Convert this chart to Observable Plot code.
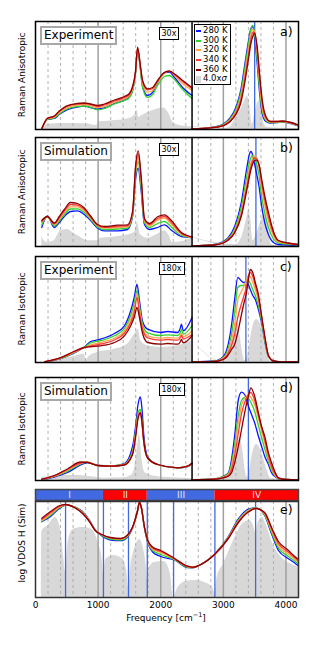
<!DOCTYPE html>
<html><head><meta charset="utf-8">
<script src="https://cdn.jsdelivr.net/npm/d3@7"></script>
<script src="https://cdn.jsdelivr.net/npm/@observablehq/plot@0.6"></script>
<style>
html,body{margin:0;padding:0;background:#fff}
body{width:320px;height:650px;position:relative;overflow:hidden;font-family:"DejaVu Sans",sans-serif;color:#000}
.abs{position:absolute}
.ylab{position:absolute;font-size:9px;white-space:nowrap;transform:translate(-50%,-50%) rotate(-90deg)}
.tag{position:absolute;background:#fff;border:2px solid #a8a8a8;font-size:12px;line-height:15px;padding:0 2px;white-space:nowrap}
.mag{position:absolute;background:#fff;border:1.5px solid #000;font-size:8px;line-height:11px;padding:0 2px;white-space:nowrap}
.let{position:absolute;font-size:12.5px;line-height:14px;white-space:nowrap}
.legend{position:absolute;left:194px;top:24px;width:35px;height:58px;border:1.5px solid #000;background:#fff;padding-top:1px;font-size:8.5px}
.legend .row{height:9.7px;line-height:9.7px;display:flex;align-items:center;white-space:nowrap}
.legend .sw{width:5px;height:2px;margin:0 2px 0 1px;flex:none}
.legend .sq{width:5px;height:7px;margin:0 2px 0 1px;background:#d8d8d8;flex:none}
.xlab{position:absolute;font-size:9px;white-space:nowrap;transform:translate(-50%,-50%)}
</style></head>
<body>
<script>
// ---------- data ----------
const temps = ["280 K", "300 K", "320 K", "340 K", "360 K"];
const tempColors = ["#0a14ff", "#2ed12e", "#ffa64d", "#ff3a3a", "#8b0000"];

const gridMinor = [200,400,600,800,1200,1400,1600,1800,2200,2400,2600,2800,3200,3400,3600,3800];
const gridMajor = [1000,2000,3000,4000];
const xTicks = [0,1000,2000,3000,4000];

// panel a (Experiment, anisotropic)
const aLeftFreq = [100,190,300,380,500,670,780,880,990,1100,1260,1420,1500,1550,1595,1630,1675,1710,1790,1870,1950,2060,2140,2220,2350,2500];
const aLeft = [
 [0.5,10,11,15,19.5,22.5,23.5,22,20.5,21.5,26,29.5,32.5,39,55,79,61,43,34,37,47,57,57.5,52,42,34],
 [0.5,10,11.5,15.5,20.5,23,23.5,22,19.7,21,25.5,29,32,38.5,54,80,60,42,32,35,44,53,54,50,40,31],
 [0.7,10.7,12.3,17,21.7,24.3,25,23.7,21.7,23,27.3,30.7,34,40.7,55.7,80.7,62.3,45.7,37.3,39,47.3,56.3,58.3,54,45.7,39],
 [0.8,11,13,18,23,25.5,26,25,23,24.5,28.5,32,35,42,56.5,81,63,48,39.7,41,48.5,57,58.3,55,48,40.7],
 [0.8,11.2,13.5,18.5,23.7,26,26.5,25.5,24,25.5,29.5,33,36,43,57,82.3,64,49,40.7,42,49,57,58.3,55.5,49,41.7]];
const aRightFreq = [2500,2700,2900,3000,3100,3200,3280,3340,3400,3440,3470,3500,3540,3580,3620,3680,3750,3850,3950,4050,4200];
const aRight = [
 [0.5,1.3,3,5.5,11,22,40,64,88,101,103,92,66,36,16,8,6.5,6.8,7.5,6.5,3.5],
 [0.5,1.3,2.8,5,10,20,37,60,85,100,104,96,70,40,19,9,7,7,7.7,6.7,3.7],
 [0.5,1.3,2.6,4.5,9,18,33,55,79,95,100,97,76,46,22,10,7.5,7.5,8,7,4],
 [0.5,1.3,2.5,4.2,8,16.5,30,50,74,90,97,97,79,50,26,11.5,8,8,8.2,7.2,4.2],
 [0.5,1.2,2.3,3.8,7.5,15,27,46,70,86,93,96,83,55,30,13,8,8,8.5,7.5,4.5]];
const aSigmaLeftFreq = [100,130,200,400,800,980,1000,1200,1500,1590,1620,1650,1700,1800,1950,2050,2120,2200,2300,2500];
const aSigmaLeft = [0,2,5,6,5.7,4,7.5,8.5,11,15,19,12,14,17,20.5,21.5,17,7,4,2.5];
const aSigmaRightFreq = [2500,3000,3100,3200,3300,3380,3420,3460,3500,3550,3590,3620,3660,3700,3800,4200];
const aSigmaRight = [0.5,1,2,12,22,33,25,5,15,27,29,15,4,2,1.5,1];

// panel b (Simulation, anisotropic)
const bLeftFreq = [100,190,300,380,460,560,670,780,880,990,1100,1310,1470,1550,1600,1640,1685,1740,1820,1950,2060,2170,2330,2500];
const bLeft = [
 [19,30.7,19,24,30,35,35.7,32,26,18.5,15.7,15.7,17,30,68,78.3,57,22,17,19,21.7,16.3,10,9],
 [21.5,30,20.5,25.5,32,37.5,37.7,34,27,19.5,17,17.5,18.5,31,72,85,61,24,19,23,25,19.5,11,9],
 [24,29.7,21.7,27.3,34,39.7,39.7,35.7,28.3,20.7,18.3,19,19.7,32.3,75.7,89,65.7,25.7,20.7,26.3,28.3,22.3,12.3,9],
 [25,29.8,22.6,28.6,35.5,42,41.5,37,29.5,21.4,19.2,20.2,20.7,33.7,79,92.5,69,27,22,28,30,24,13,9.3],
 [26,30,23.5,30,37,44,43,38.5,30.5,22,20,21.3,21.7,35,82,95.7,72,28,23,29.7,31.7,26,14,9.7]];
const bRightFreq = [2500,2700,2860,3000,3080,3180,3290,3370,3420,3440,3470,3500,3530,3570,3610,3660,3720,3800,3880,4040,4200];
const bRight = [
 [0.7,1,2,5,9,20,45,77,93,95,91,82,73,60,41,24,12,4,2,1.5,1],
 [0.7,1,1.8,4.5,8,17.5,40,69,85,89,91,88,83,71,51,34,19,7.5,3.5,2.3,1.3],
 [0.7,1,1.7,4,7.3,15.7,35.7,62.3,79,84,89,90.7,89,79,59,42,25.7,10.7,4.7,3,1.7],
 [0.7,1,1.6,3.8,7,14.5,33,58,75,80,86,88.5,88,81,64,47,30,13,5.5,3.2,1.8],
 [0.7,1,1.5,3.5,6.5,13.5,31,55,71,77,83,86,86.3,82,68,51,34,15,6,3.5,2]];
const bSigmaLeftFreq = [100,120,190,300,400,510,590,720,830,990,1050,1200,1400,1580,1630,1670,1790,1950,2060,2120,2190,2350,2500];
const bSigmaLeft = [10.7,7.3,4,5.7,15.7,17,14,9,5.7,5.7,8.3,9,10.7,14,24,12.3,8.3,12.3,15.7,12.3,4,5,9];
const bSigmaRightFreq = [2500,3200,3300,3380,3410,3440,3470,3520,3600,3660,3700,3760,3800,4200];
const bSigmaRight = [0.3,2,10,30,37,25,6,10,25,32,25,3,1,0.5];

// panel c (Experiment, isotropic)
const cLeftFreq = [150,400,610,780,880,1040,1260,1420,1520,1580,1620,1660,1710,1790,2000,2110,2270,2310,2330,2360,2500];
const cLeft = [
 [0.5,3.8,9.3,15.5,21,23.3,29,36.7,51.7,66,78.3,62,41,33.3,30,31,30,34,38.3,31.7,45],
 [0.6,4,9.7,15.2,19.5,21.8,26.7,34,47,60,72,57,38,29.7,27,27.7,27,29.7,33,28.3,37],
 [0.7,4.3,10,15,17.7,20,24.3,31.7,43.3,55,68.3,53.3,35,26.7,24.3,25,24.3,26.7,29,25.7,31.7],
 [0.8,4.6,10.5,15,16.5,18.5,22.5,29.5,40,51,65,50,33,24.7,22.3,23,22.3,24.5,27,23.7,28],
 [0.8,4.8,11,15,15.7,16.7,20,26.7,36.7,46,55,45,29,20,18.3,19,18.3,20.5,23,19.7,26.7]];
const cRightFreq = [2500,2860,3000,3060,3130,3180,3230,3280,3320,3370,3400,3430,3470,3510,3560,3610,3660,3720,3800,3900,4200];
const cRight = [
 [0.7,1.5,6,14,37,63,85,82,80,81,78,73,67,63,53,40,22,6,1.5,0.7,0.5],
 [0.6,1.3,5,11,28,50,75,77,77,81,82,79,73,67,57,42,23,6,1.5,0.7,0.5],
 [0.6,1.2,4.5,9,22,38,62,70,75,82,87,86,80,73,62,45,25,6.5,1.5,0.7,0.5],
 [0.5,1.1,3.8,7.5,17,28,45,57,65,76,86,90,86,77,65,46,26,7,1.5,0.7,0.5],
 [0.5,1,3,6,13,18,30,45,57,70,83,93,90,80,68,47,27,7,1.5,0.7,0.5]];
const cSigmaLeftFreq = [130,200,400,600,780,810,850,990,1260,1470,1600,1640,1680,1790,2000,2270,2500];
const cSigmaLeft = [0,1,3.3,5.7,8.3,1.7,5.7,10,13.3,18.3,30,33.3,21.7,16.7,15,16.7,21.7];
const cSigmaRightFreq = [2500,3000,3100,3160,3210,3260,3300,3340,3380,3430,3480,3530,3580,3640,3700,3750,4200];
const cSigmaRight = [0,1,8,25,40,30,12,2,5,22,38,43,40,28,10,1,0];

// panel d (Simulation, isotropic)
const dLeftFreq = [100,300,510,720,830,990,1200,1420,1550,1600,1635,1675,1700,1730,1790,1950,2270,2430,2500];
const dLeft = [
 [0.7,3.5,8,15.5,18,15,14.7,17,34,55,75,83.5,72,45,24,16,12.7,14,16.5],
 [0.8,4,9.3,16.5,18.3,15,14.5,16.3,29.5,50,67,71,60,39,23,16,12.7,14.2,16.8],
 [1,4.3,10.3,17,18.3,15,14.3,16,27.7,47.7,64.3,68.3,57.7,37.7,22.7,16,12.7,14.3,17],
 [1.2,4.6,11,17.5,18.3,15,14.3,15.8,27,46,63,68,58,38,22.5,16,12.7,14.4,17.2],
 [1.3,5,11.5,18.5,18,15,14.3,15.5,26,44,61,67.5,59,39,22.5,16,12.7,14.5,17.5]];
const dRightFreq = [2500,2860,3000,3080,3130,3180,3240,3290,3340,3400,3440,3500,3560,3610,3660,3720,3770,3830,3880,4000,4200];
const dRight = [
 [0.7,1.7,4.3,7.7,21,44.3,81,88.3,86,74.3,67.7,57.7,44.3,34.3,24.3,16,7.7,3.7,1.7,1,0.7],
 [0.7,1.6,3.8,6.8,17,36,66,80,83,82,78,69,55,43,32,19,10,4.5,1.8,1,0.7],
 [0.7,1.5,3.5,6,14,31,58,75,82,85,83,76,62,50,38,22,12,5,2,1,0.7],
 [0.7,1.4,3,5,11,25,48,67,78,86,88,80,65,53,41,25,14,6,2.3,1,0.7],
 [0.7,1.3,2.7,4.3,7.7,17.7,34.3,51,67.7,84.3,92.7,84.3,67.7,54.3,44.3,27.7,17.7,7.7,2.7,1,0.7]];
const dSigmaLeftFreq = [100,200,500,700,900,1100,1400,1550,1620,1660,1700,1750,1900,2200,2500];
const dSigmaLeft = [2.7,3.7,5,5,3.7,2.3,2.7,6,27.7,46,21,7.7,4.3,2.7,1.7];
const dSigmaRightFreq = [2500,3000,3100,3180,3230,3270,3310,3350,3380,3420,3470,3530,3580,3640,3700,3760,4200];
const dSigmaRight = [0,1,5,20,38,43,30,10,3,10,28,36,33,22,10,2,0];

// panel e (log VDOS H, simulation)
const eFreq = [100,240,370,480,610,750,860,960,1040,1200,1360,1470,1550,1630,1660,1690,1740,1790,1870,2000,2220,2430,2510,2650,2860,3080,3240,3400,3520,3660,3770,3880,4040,4140,4200];
const eVdos = [
 [75.7,81,88.5,92.5,91,86,77.5,67,62.5,57.5,56.8,60.5,69.5,86.5,95,90,69.5,55.5,45.5,41,37.5,29.8,29.7,33.3,43.3,61,78.5,88.3,89.7,82,63.5,47,38.7,34.5,31.5],
 [76.2,82.2,89.3,92.6,90.8,85.5,77,66.8,62.8,58.4,57.5,61,69.7,86.6,95,90,69.7,56,47,43,37.9,30.2,29.9,33.3,43.3,60.5,77.5,87.5,89.5,82.7,65,49.3,41,36.5,33.2],
 [76.7,83.3,90,92.7,90.7,85,76.7,66.7,63.3,59.3,58.3,61.7,70,86.7,95,90,70,56.7,48.3,45,38.3,30.7,30,33.3,43.3,60,76.7,86.7,89.3,83.3,66.7,51.7,43.3,38.3,35],
 [78,84.7,90.8,92.9,90.5,84.5,76.3,66.6,63.4,59.7,58.7,62.1,70.2,86.8,95,90,70.2,57.2,49.4,46,38.7,31,30.2,33.3,43.2,59.5,75.8,86,89.1,84.2,68.4,53.8,45.2,39.7,36.5],
 [79.3,86,91.5,93,90.3,84,76,66.5,63.5,60,59,62.5,70.5,87,95,90,70.5,57.5,50.5,47,39,31.3,30.3,33.3,43,59,75,85.5,89,85,70,56,47,41,38]];
const eSigmaFreq = [95,100,200,320,400,450,480,520,600,750,900,1000,1060,1085,1120,1250,1400,1460,1485,1520,1600,1660,1720,1770,1785,1800,1900,2050,2150,2205,2260,2400,2550,2700,2830,2865,2900,3000,3150,3300,3420,3480,3515,3550,3620,3700,3800,3900,4000,4100,4200];
const eSigma = [0,66,72,80,68,40,25,55,68,70,68,55,40,25,38,42,38,25,10,30,52,58,50,30,18,28,35,36,25,0,8,16,17,15,10,5,20,33,55,73,77,72,65,74,80,70,52,42,36,33,30];
const eMarkers = [480,1085,1485,1785,2205,2865,3515];

const regionNames = ["I","II","III","IV"];
const regionStart = [0,1085,1785,2865];
const regionEnd = [1085,1785,2865,4200];
const regionColor = ["#4169e1","#ff0000","#4169e1","#ff0000"];

// ---------- helpers ----------
function place(node, top) {
  const d = document.createElement("div");
  d.className = "abs"; d.style.left = "0px"; d.style.top = top + "px";
  d.appendChild(node); document.body.appendChild(d);
}
function html(cls, text, style) {
  const d = document.createElement("div");
  d.className = cls; d.innerHTML = text; Object.assign(d.style, style);
  document.body.appendChild(d); return d;
}
function curveRows(freq, series, part) {
  const rows = [];
  series.forEach((vals, i) => vals.forEach((v, j) => rows.push({f: freq[j], v, T: temps[i], key: temps[i] + part})));
  return rows;
}
function sigmaRows(freq, vals, part) { return vals.map((v, j) => ({f: freq[j], v, part})); }

const plotStyle = {fontFamily: "DejaVu Sans", fontSize: "9px", background: "transparent", overflow: "visible"};

function spectrumPanel(p) {
  const curves = [...curveRows(p.lf, p.l, "L"), ...curveRows(p.rf, p.r, "R")];
  const sigma = [...sigmaRows(p.slf, p.sl, "L"), ...sigmaRows(p.srf, p.sr, "R")];
  const svg = Plot.plot({
    width: 320, height: p.H + 2, marginLeft: 35, marginRight: 22, marginTop: 1, marginBottom: 1,
    style: plotStyle,
    x: {domain: [0, 4200], axis: null},
    y: {domain: [0, p.H], axis: null},
    color: {domain: temps, range: tempColors},
    marks: [
      Plot.areaY(sigma, {x: "f", y: "v", z: "part", fill: "#d8d8d8", curve: "monotone-x"}),
      Plot.ruleX(gridMinor, {stroke: "#a8a8a8", strokeWidth: 0.9, strokeDasharray: "3,3"}),
      Plot.ruleX(gridMajor, {stroke: "#a0a0a0", strokeWidth: 1.5}),
      Plot.ruleX([p.marker], {stroke: "#4169e1", strokeWidth: 1.3}),
      Plot.line(curves, {x: "f", y: "v", z: "key", stroke: "T", strokeWidth: 1.3, curve: "monotone-x"}),
      Plot.ruleX([2500], {stroke: "#000", strokeWidth: 1.5}),
      Plot.frame({stroke: "#000", strokeWidth: 1.5})
    ]
  });
  place(svg, p.top - 1);
  html("tag", p.tag, {left: "40px", top: (p.top + 5) + "px"});
  html("mag", p.mag, {left: "158.5px", top: (p.top + 6) + "px"});
  html("let", p.letter, {left: "280px", top: (p.top + 4) + "px"});
  html("ylab", p.ylabel, {left: "22px", top: (p.top + p.H / 2) + "px"});
}

spectrumPanel({top: 21, H: 108, lf: aLeftFreq, l: aLeft, rf: aRightFreq, r: aRight,
  slf: aSigmaLeftFreq, sl: aSigmaLeft, srf: aSigmaRightFreq, sr: aSigmaRight, marker: 3500,
  tag: "Experiment", mag: "30x", letter: "a)", ylabel: "Raman Anisotropic"});
spectrumPanel({top: 137, H: 109, lf: bLeftFreq, l: bLeft, rf: bRightFreq, r: bRight,
  slf: bSigmaLeftFreq, sl: bSigmaLeft, srf: bSigmaRightFreq, sr: bSigmaRight, marker: 3520,
  tag: "Simulation", mag: "30x", letter: "b)", ylabel: "Raman Anisotropic"});
spectrumPanel({top: 256, H: 106, lf: cLeftFreq, l: cLeft, rf: cRightFreq, r: cRight,
  slf: cSigmaLeftFreq, sl: cSigmaLeft, srf: cSigmaRightFreq, sr: cSigmaRight, marker: 3360,
  tag: "Experiment", mag: "180x", letter: "c)", ylabel: "Raman Isotropic"});
spectrumPanel({top: 377, H: 103, lf: dLeftFreq, l: dLeft, rf: dRightFreq, r: dRight,
  slf: dSigmaLeftFreq, sl: dSigmaLeft, srf: dSigmaRightFreq, sr: dSigmaRight, marker: 3400,
  tag: "Simulation", mag: "180x", letter: "d)", ylabel: "Raman Isotropic"});

// legend in panel a
const leg = html("legend", "", {});
temps.forEach((t, i) => {
  const r = document.createElement("div"); r.className = "row";
  r.innerHTML = `<span class="sw" style="background:${tempColors[i]}"></span>${t}`;
  leg.appendChild(r);
});
{ const r = document.createElement("div"); r.className = "row";
  r.innerHTML = `<span class="sq"></span>4.0x<i>σ</i>`; leg.appendChild(r); }

// band of regions
const regions = regionNames.map((n, i) => ({name: n, start: regionStart[i], end: regionEnd[i], color: regionColor[i]}));
const band = Plot.plot({
  width: 320, height: 13, marginLeft: 35, marginRight: 22, marginTop: 1, marginBottom: 1,
  style: plotStyle,
  x: {domain: [0, 4200], axis: null},
  y: {domain: [0, 1], axis: null},
  color: {type: "identity"},
  marks: [
    Plot.barX(regions, {x1: "start", x2: "end", fill: "color"}),
    Plot.text(regions, {x: d => (d.start + d.end) / 2, text: "name", fill: "#e6e6e6", fontSize: 9}),
    Plot.frame({stroke: "#444", strokeWidth: 1.5})
  ]
});
place(band, 488);

// panel e
const eH = 96;
const eCurves = curveRows(eFreq, eVdos, "E");
const eSig = sigmaRows(eSigmaFreq, eSigma, "E");
const ePlot = Plot.plot({
  width: 320, height: eH + 1 + 16, marginLeft: 35, marginRight: 22, marginTop: 1, marginBottom: 16,
  style: plotStyle,
  x: {domain: [0, 4200], ticks: xTicks, tickFormat: "d", tickSize: 0, tickPadding: 4, label: null},
  y: {domain: [0, eH], axis: null},
  color: {domain: temps, range: tempColors},
  marks: [
    Plot.areaY(eSig, {x: "f", y: "v", fill: "#d8d8d8", curve: "monotone-x"}),
    Plot.ruleX(gridMinor, {stroke: "#a8a8a8", strokeWidth: 0.9, strokeDasharray: "3,3"}),
    Plot.ruleX(gridMajor, {stroke: "#a0a0a0", strokeWidth: 1.5}),
    Plot.ruleX(eMarkers, {stroke: "#4169e1", strokeWidth: 1.3}),
    Plot.line(eCurves, {x: "f", y: "v", z: "key", stroke: "T", strokeWidth: 1.3, curve: "monotone-x"}),
    Plot.frame({stroke: "#333", strokeWidth: 1.5})
  ]
});
place(ePlot, 500);
html("let", "e)", {left: "280px", top: "503px"});
html("ylab", "log VDOS H (Sim)", {left: "22px", top: "543px"});
html("xlab", "Frequency [cm<sup style='font-size:6.5px'>−1</sup>]", {left: "166px", top: "617px"});
</script>
</body></html>
